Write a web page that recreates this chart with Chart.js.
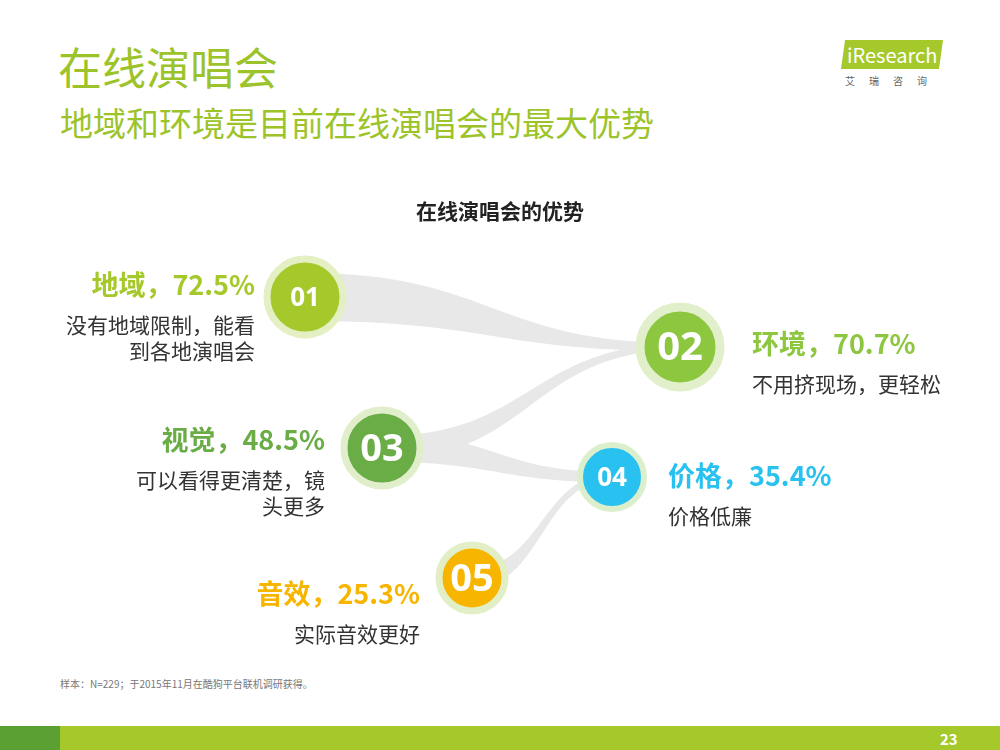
<!DOCTYPE html>
<html><head><meta charset="utf-8">
<script src="https://cdn.jsdelivr.net/npm/chart.js@4"></script>
<style>
body{margin:0;width:1000px;height:750px;position:relative;overflow:hidden;background:#fff;font-family:"Noto Sans CJK SC","Noto Sans",sans-serif}
#c{position:absolute;left:0;top:0}
.t{position:absolute;white-space:nowrap}
</style></head><body>
<div class="t" style="left:58px;top:34px;font-size:44px;color:#9cc42a">在线演唱会</div>
<div class="t" style="left:60px;top:98px;font-size:33px;color:#9cc42a">地域和环境是目前在线演唱会的最大优势</div>
<div class="t" style="left:843px;top:40px;font-size:20px;color:#fff;background:#a5c92a;padding:0 4px;transform:skewX(-8deg)"><span style="display:inline-block;transform:skewX(8deg)">iResearch</span></div>
<div class="t" style="left:845px;top:73px;font-size:10px;color:#666;letter-spacing:14px">艾瑞咨询</div>
<div class="t" style="left:60px;top:676px;font-size:10px;color:#777">样本：N=229；于2015年11月在酷狗平台联机调研获得。</div>
<div style="position:absolute;left:0;top:726px;width:1000px;height:24px;background:#a5c92a"></div>
<div style="position:absolute;left:0;top:726px;width:60px;height:24px;background:#5aa032"></div>
<div class="t" style="left:940px;top:728px;font-size:15px;font-weight:bold;color:#fff">23</div>
<canvas id="c" width="1000" height="750"></canvas>
<script>
const categories=["地域","环境","视觉","价格","音效"];
const values=[72.5,70.7,48.5,35.4,25.3];
const numbers=["01","02","03","04","05"];
const descriptions=[["没有地域限制，能看","到各地演唱会"],["不用挤现场，更轻松"],["可以看得更清楚，镜","头更多"],["价格低廉"],["实际音效更好"]];
// layout (not data)
const posX=[305,680,382,612,472], posY=[297,347,448,477,578];
const radii=[38,40,38,32,33], rings=[7,9,7,6,7];
const colors=["#a5c92a","#8dc63f","#6aac46","#29c1ef","#f7b500"];
const ringColors=["#e4efc4","#e2efcb","#e0eecb","#dcefcc","#e2efc6"];
const numSizes=[26,40,38,26,38];
const labelSide=["r","l","r","l","r"], labelX=[255,752,325,668,420], labelY=[285,344,440,476,594];
const links=[[0,1,24,4],[2,1,12,3],[2,3,14,5],[4,3,10,3]];
const deco={id:'deco',
 beforeDatasetsDraw(ch){const c=ch.ctx,xs=ch.scales.x,ys=ch.scales.y;c.save();c.fillStyle="#e8e8e8";
  links.forEach(([a,b,w1,w2])=>{const x1=xs.getPixelForValue(posX[a]),y1=ys.getPixelForValue(posY[a]),x2=xs.getPixelForValue(posX[b]),y2=ys.getPixelForValue(posY[b]);const mx=(x1+x2)/2;
   c.beginPath();c.moveTo(x1,y1-w1);c.bezierCurveTo(mx,y1-w1,mx,y2-w2,x2,y2-w2);c.lineTo(x2,y2+w2);c.bezierCurveTo(mx,y2+w2,mx,y1+w1,x1,y1+w1);c.closePath();c.fill();});
  c.restore();},
 afterDatasetsDraw(ch){const c=ch.ctx,xs=ch.scales.x,ys=ch.scales.y;c.save();
  c.textAlign="center";c.textBaseline="middle";c.fillStyle="#222";c.font="bold 21px 'Noto Sans CJK SC'";c.fillText("在线演唱会的优势",500,211);
  numbers.forEach((n,i)=>{c.fillStyle="#fff";c.font="bold "+numSizes[i]+"px 'Open Sans','Noto Sans'";c.textAlign="center";c.fillText(n,xs.getPixelForValue(posX[i]),ys.getPixelForValue(posY[i])+2);
   c.textAlign=labelSide[i]=="r"?"right":"left";c.fillStyle=colors[i];c.font="bold 27px 'Noto Sans CJK SC'";
   c.fillText(categories[i]+"，"+values[i].toFixed(1)+"%",labelX[i],labelY[i]);
   c.fillStyle="#333";c.font="21px 'Noto Sans CJK SC'";
   descriptions[i].forEach((d,k)=>c.fillText(d,labelX[i],labelY[i]+40+k*26));});
  c.restore();}};
new Chart(document.getElementById('c'),{type:'scatter',
 data:{datasets:[{data:values.map((v,i)=>({x:posX[i],y:posY[i],v})),pointRadius:radii,pointHoverRadius:radii,backgroundColor:colors,borderColor:ringColors,borderWidth:rings,pointHoverBorderWidth:rings,clip:false}]},
 options:{responsive:false,animation:false,events:[],layout:{padding:0,autoPadding:false},
  plugins:{legend:{display:false},tooltip:{enabled:false}},
  scales:{x:{type:'linear',min:0,max:1000,display:false},y:{type:'linear',min:0,max:750,reverse:true,display:false}}},
 plugins:[deco]});
</script></body></html>
